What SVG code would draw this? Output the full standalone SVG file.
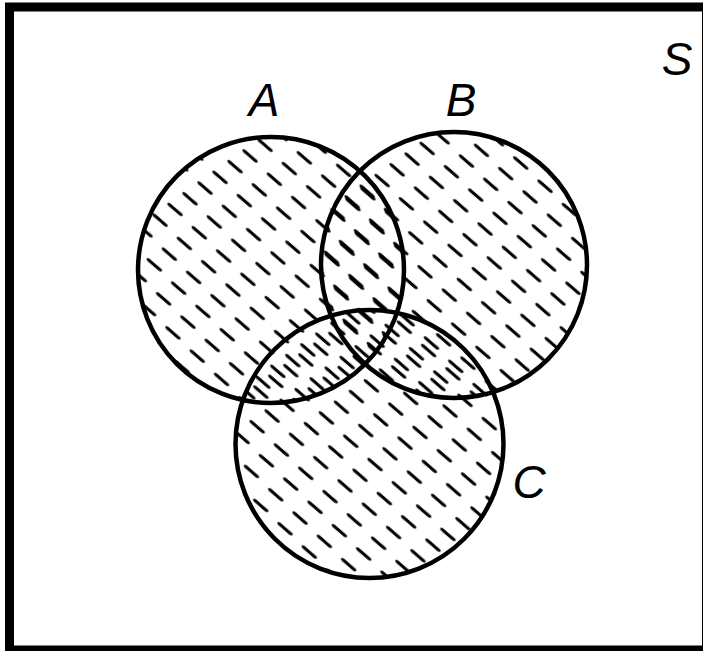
<svg xmlns="http://www.w3.org/2000/svg" width="703" height="651" viewBox="0 0 703 651">
  <style>
    .lbl { font-family: "Liberation Sans", Arial, sans-serif; font-style: italic; font-size: 46px; fill: #000; text-anchor: middle; }
    .ring { fill: none; stroke: #000; stroke-width: 4.5; }
    .dash { stroke: #000; stroke-width: 3.3; stroke-linecap: round; }
  </style>
  <defs>
    <pattern id="hA" patternUnits="userSpaceOnUse" width="20" height="20" patternTransform="matrix(1.215 1.165 -0.75 0.535 245.35 139)">
      <line class="dash" x1="5.88" y1="10.33" x2="14.12" y2="9.67"/>
    </pattern>
    <pattern id="hB" patternUnits="userSpaceOnUse" width="20" height="20" patternTransform="matrix(1.215 1.165 -0.75 0.535 525.35 180)">
      <line class="dash" x1="5.88" y1="10.33" x2="14.12" y2="9.67"/>
    </pattern>
    <pattern id="hC" patternUnits="userSpaceOnUse" width="20" height="20" patternTransform="matrix(1.215 1.165 -0.75 0.535 340.35 469)">
      <line class="dash" x1="5.88" y1="10.33" x2="14.12" y2="9.67"/>
    </pattern>
  </defs>
  <rect width="703" height="651" fill="#fff"/>
  <g id="S">
    <rect x="9.5" y="7" width="697" height="643" fill="none" stroke="#000" stroke-width="9"/>
    <text class="lbl" x="677" y="75">S</text>
  </g>
  <g id="fills">
    <circle cx="271" cy="270" r="133" fill="url(#hA)"/>
    <circle cx="454" cy="265" r="133" fill="url(#hB)"/>
    <circle cx="369.5" cy="444" r="134" fill="url(#hC)"/>
  </g>
  <g id="A">
    <circle class="ring" cx="271" cy="270" r="133"/>
    <text class="lbl" x="264" y="116">A</text>
  </g>
  <g id="B">
    <circle class="ring" cx="454" cy="265" r="133"/>
    <text class="lbl" x="461" y="116">B</text>
  </g>
  <g id="C">
    <circle class="ring" cx="369.5" cy="444" r="134"/>
    <text class="lbl" x="529" y="498">C</text>
  </g>
  <g id="connectors"/>
</svg>
